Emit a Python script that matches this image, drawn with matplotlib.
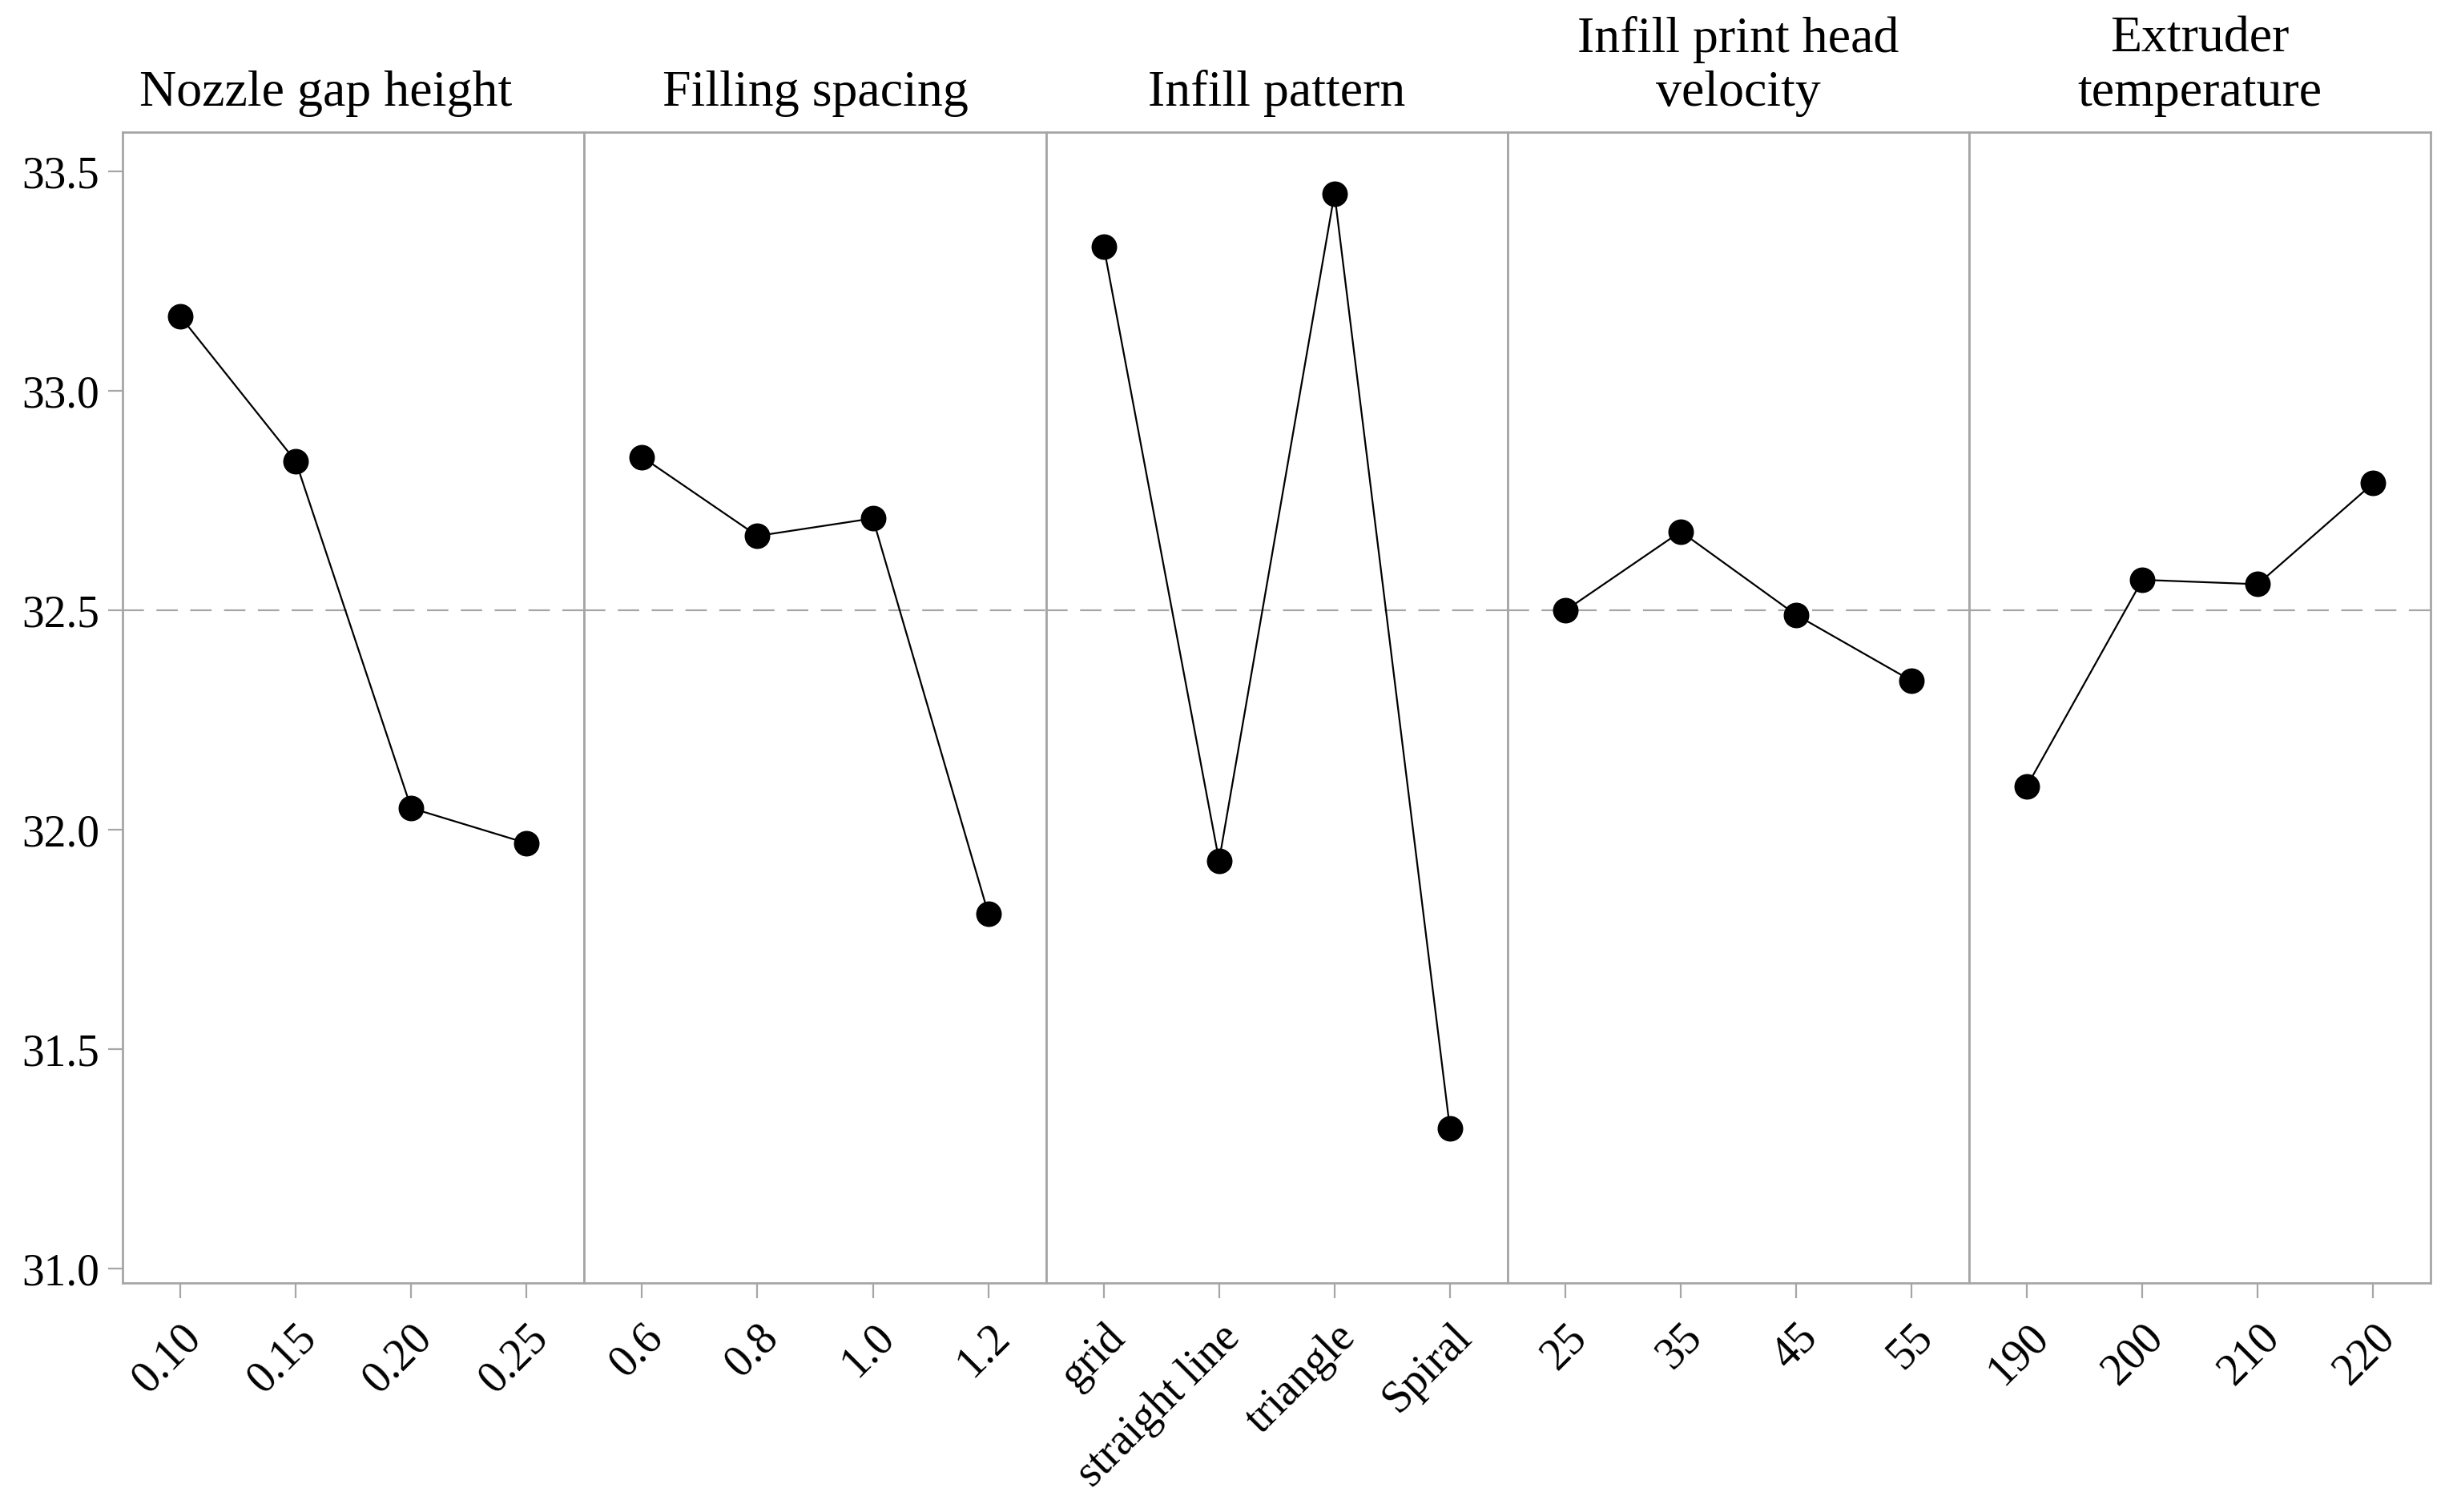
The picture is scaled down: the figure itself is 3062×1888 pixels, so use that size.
import matplotlib
matplotlib.use("Agg")
import matplotlib.pyplot as plt

plt.rcParams['font.family'] = ['Liberation Serif', 'DejaVu Serif']

# factor names (panel titles)
factors = ["Nozzle gap height", "Filling spacing", "Infill pattern",
           "Infill print head\nvelocity", "Extruder\ntemperature"]

# level labels for each factor
nozzle_levels = ["0.10", "0.15", "0.20", "0.25"]
spacing_levels = ["0.6", "0.8", "1.0", "1.2"]
pattern_levels = ["grid", "straight line", "triangle", "Spiral"]
velocity_levels = ["25", "35", "45", "55"]
temp_levels = ["190", "200", "210", "220"]

# mean S/N ratio per level
nozzle_means = [33.17, 32.84, 32.05, 31.97]
spacing_means = [32.85, 32.67, 32.71, 31.81]
pattern_means = [33.33, 31.93, 33.45, 31.32]
velocity_means = [32.50, 32.68, 32.49, 32.34]
temp_means = [32.10, 32.57, 32.56, 32.79]

grand_mean = 32.5

levels = [nozzle_levels, spacing_levels, pattern_levels, velocity_levels, temp_levels]
means = [nozzle_means, spacing_means, pattern_means, velocity_means, temp_means]

grey = "#a6a6a6"

fig = plt.figure(figsize=(30.62, 18.88), dpi=100)
axes = fig.subplots(1, 5, sharey=True)
fig.subplots_adjust(left=0.05, right=0.991, top=0.9126, bottom=0.1515, wspace=0)

for i, ax in enumerate(axes):
    x = list(range(len(levels[i])))
    ax.axhline(grand_mean, color=grey, lw=1.6, dashes=(12, 7), zorder=1)
    ax.plot(x, means[i], color="black", lw=1.6, marker="o", ms=22, zorder=3)
    ax.set_xlim(-0.5, 3.5)
    ax.set_xticks(x)
    ax.set_xticklabels(levels[i], rotation=45, ha="right", rotation_mode="anchor",
                       fontsize=40)
    ax.tick_params(axis="x", length=14, width=1.6, color=grey, pad=16)
    # first title sits a bit left of the panel centre in the original
    ax.set_title(factors[i], fontsize=46, pad=14, va="bottom",
                 x=0.44 if i == 0 else 0.5)
    for sp in ax.spines.values():
        sp.set_color(grey)
        sp.set_linewidth(2)
    if i > 0:
        ax.tick_params(axis="y", left=False, labelleft=False)

axes[0].set_ylim(30.968, 33.59)
axes[0].set_yticks([31.0, 31.5, 32.0, 32.5, 33.0, 33.5])
axes[0].set_yticklabels(["31.0", "31.5", "32.0", "32.5", "33.0", "33.5"])
axes[0].tick_params(axis="y", length=13, width=1.6, color=grey, pad=8, labelsize=40)

fig.savefig("out.png", dpi=100, facecolor="white")
